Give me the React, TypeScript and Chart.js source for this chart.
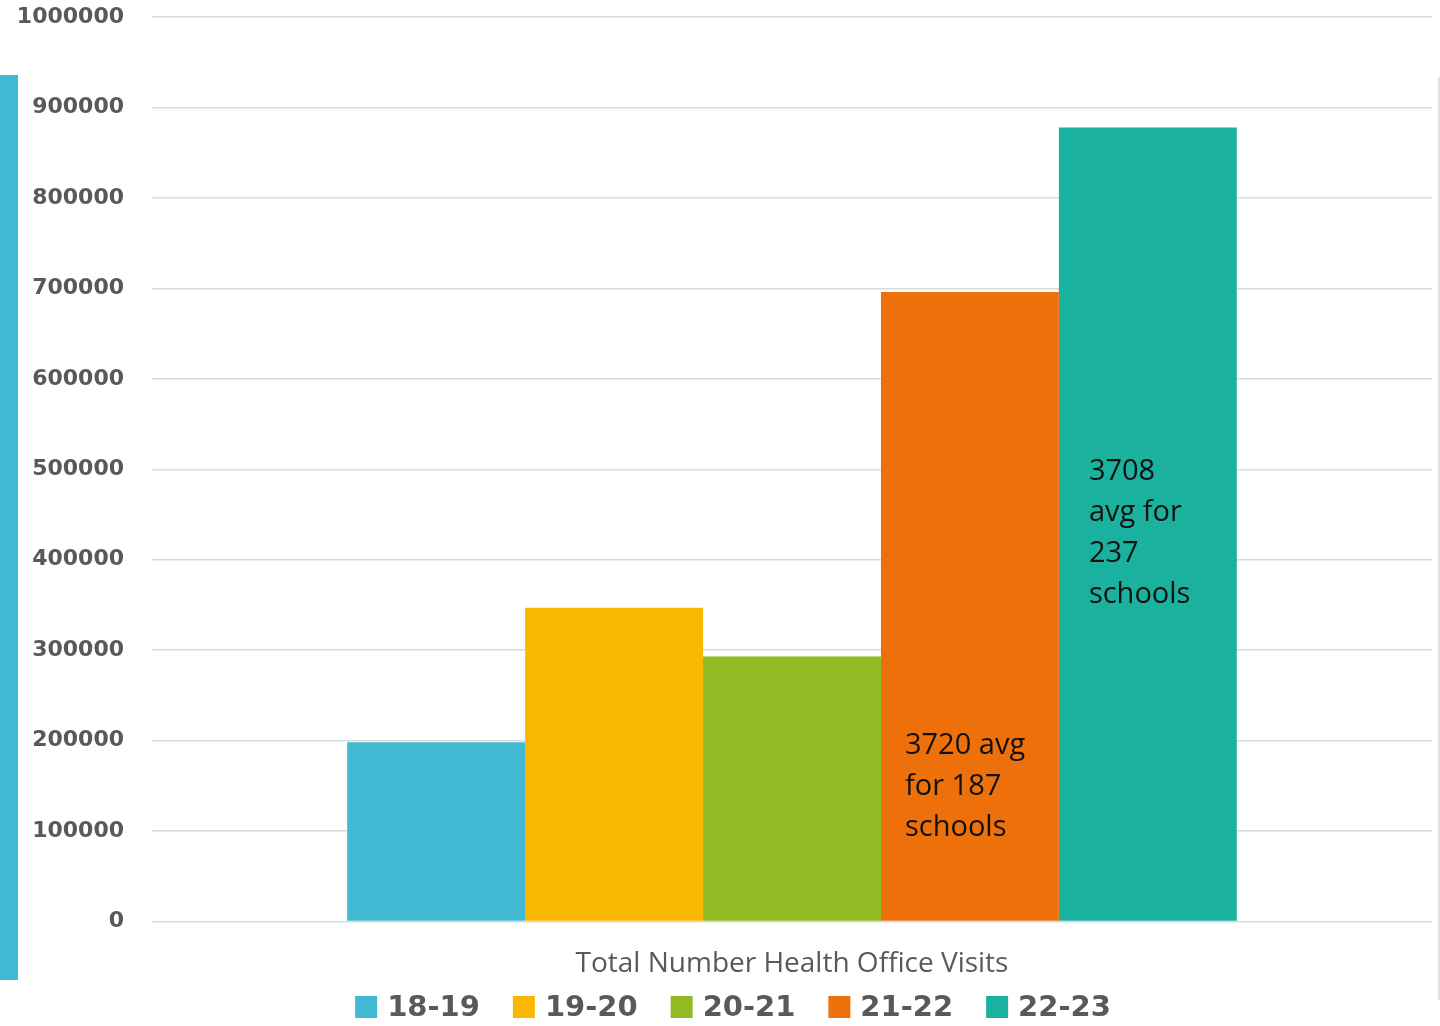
import React, { useEffect, useRef } from "react";
import { Chart, registerables } from "chart.js";

Chart.register(...registerables);

const categories = ["Total Number Health Office Visits"];
const seriesLabels = ["18-19", "19-20", "20-21", "21-22", "22-23"];
const seriesValues = [198000, 347000, 293000, 696000, 878000];
const seriesColors = ["#41B9D3", "#F9B800", "#92BA23", "#ED700A", "#1AB29E"];
const yTicks = [0, 100000, 200000, 300000, 400000, 500000, 600000, 700000, 800000, 900000, 1000000];

// Annotations: which series they sit in, the value their first line is centred at, and their lines
const annotationSeries = [3, 4];
const annotationValues = [194000, 497000];
const annotationInset = [24, 30];
const annotationLines = [
  ["3720 avg", "for 187", "schools"],
  ["3708", "avg for", "237", "schools"],
];

const SHIFT = 24;

const annotationPlugin = {
  id: "barNotes",
  afterDatasetsDraw(chart: any) {
    const ctx = chart.ctx;
    const yScale = chart.scales.y;
    ctx.save();
    ctx.fillStyle = "#111111";
    ctx.font = "29px 'Open Sans'";
    ctx.textAlign = "left";
    ctx.textBaseline = "middle";
    annotationSeries.forEach((ds, i) => {
      const bar = chart.getDatasetMeta(ds).data[0];
      if (!bar) return;
      const left = bar.x - bar.width / 2 + annotationInset[i];
      const y0 = yScale.getPixelForValue(annotationValues[i]);
      annotationLines[i].forEach((line, j) => {
        ctx.fillText(line, left, y0 + j * 41);
      });
    });
    ctx.restore();
  },
};

const legendPlugin = {
  id: "bottomLegend",
  afterDraw(chart: any) {
    const ctx = chart.ctx;
    const ds = chart.data.datasets;
    ctx.save();
    ctx.font = "bold 29px 'DejaVu Sans'";
    ctx.textBaseline = "middle";
    ctx.textAlign = "left";
    const box = 22;
    const gap = 10;
    const spacing = 33;
    const widths = ds.map((d: any) => box + gap + ctx.measureText(d.label).width);
    const total = widths.reduce((a: number, b: number) => a + b, 0) + spacing * (ds.length - 1);
    let x = chart.width / 2 + 13 - total / 2;
    const cy = chart.height - 19;
    ds.forEach((d: any, i: number) => {
      ctx.fillStyle = d.backgroundColor;
      ctx.fillRect(x, cy - box / 2, box, box);
      ctx.fillStyle = "#595959";
      ctx.fillText(d.label, x + box + gap, cy + 1);
      x += widths[i] + spacing;
    });
    ctx.restore();
  },
};

export default function App() {
  const ref = useRef<HTMLCanvasElement>(null);

  useEffect(() => {
    if (!ref.current) return;
    const chart = new Chart(ref.current, {
      type: "bar",
      data: {
        labels: categories,
        datasets: seriesLabels.map((label, i) => ({
          label,
          data: [seriesValues[i]],
          backgroundColor: seriesColors[i],
          borderWidth: 0,
          categoryPercentage: 0.695,
          barPercentage: 1,
        })),
      },
      options: {
        animation: false,
        responsive: false,
        maintainAspectRatio: false,
        layout: { padding: { top: 16, right: 8, left: 0, bottom: 19 } },
        plugins: {
          tooltip: { enabled: false },
          legend: { display: false },
        },
        scales: {
          x: {
            grid: { display: false, drawTicks: false },
            border: { display: false },
            ticks: {
              color: "#595959",
              padding: 26,
              font: { family: "'Open Sans'", size: 28 },
            },
          },
          y: {
            min: 0,
            max: 1000000,
            afterFit: (scale: any) => {
              scale.width = 152;
            },
            afterBuildTicks: (scale: any) => {
              scale.ticks = yTicks.map((v) => ({ value: v }));
            },
            grid: { color: "#D9D9D9", lineWidth: 1.5, drawTicks: false },
            border: { display: false },
            ticks: {
              color: "#595959",
              padding: 28,
              font: { family: "'DejaVu Sans'", size: 22, weight: "bold" },
              callback: (v: any) => String(v),
            },
          },
        },
      },
      plugins: [annotationPlugin, legendPlugin],
    });
    return () => chart.destroy();
  }, []);

  return (
    <div style={{ position: "absolute", left: 0, top: 0, width: 1440, height: 1026, background: "#fff", overflow: "hidden" }}>
      <canvas ref={ref} width={1440} height={1026 + SHIFT} style={{ position: "absolute", left: 0, top: -SHIFT }} />
      <div style={{ position: "absolute", left: 0, top: 75, width: 18, height: 905, background: "#41B9D3" }} />
      <div style={{ position: "absolute", left: 1438, top: 77, width: 2, height: 923, background: "#E0E0E0" }} />
    </div>
  );
}
